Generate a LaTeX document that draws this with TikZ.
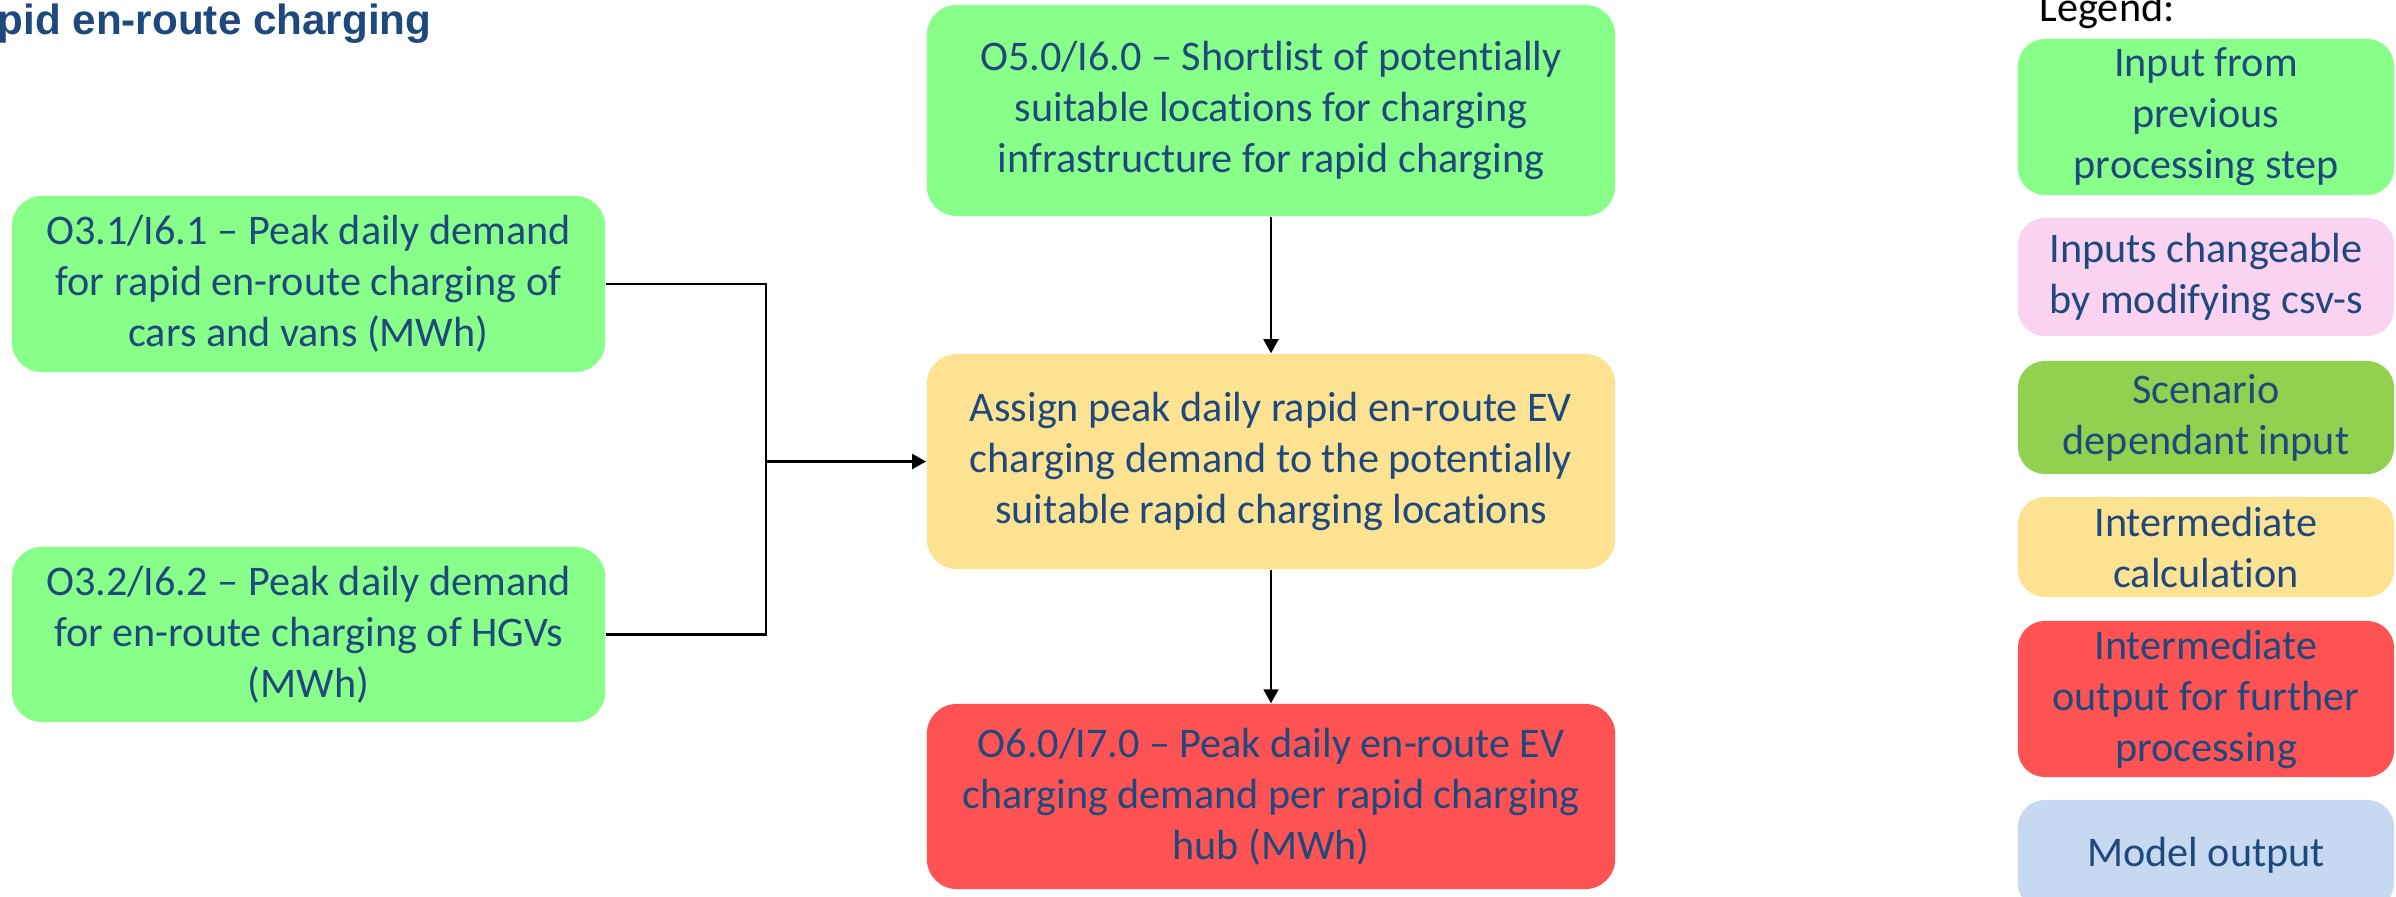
\documentclass[tikz,border=0pt]{standalone}
\usepackage{fontspec}
\setmainfont{Carlito}[Ligatures={NoCommon}]
\newfontfamily\headfont{Liberation Sans}
\usetikzlibrary{arrows.meta}
\definecolor{txtblue}{HTML}{1F497D}
\definecolor{prevgreen}{HTML}{88FF88}
\definecolor{csvpink}{HTML}{F9D3F0}
\definecolor{scengreen}{HTML}{92D050}
\definecolor{calcyellow}{HTML}{FDE391}
\definecolor{outred}{HTML}{FF5252}
\definecolor{modelblue}{HTML}{C6D9F0}
\tikzset{
  box/.style={rectangle, rounded corners=0.3cm, draw=none, align=center,
    text=txtblue, inner sep=0pt,
    font=\fontsize{12}{14.5}\selectfont},
  legbox/.style={box, rounded corners=0.27cm, minimum width=3.76cm},
  conn/.style={draw=black, line width=0.6pt},
  flow/.style={conn, -{Triangle[length=0.14cm, width=0.15cm]}}
}
\begin{document}
\begin{tikzpicture}[x=0.01cm, y=-0.01cm]
\useasboundingbox (0,0) rectangle (2396,896);
\clip (0,0) rectangle (2396,896);

% heading
\node[anchor=base west, inner sep=0pt, text=txtblue,
  font=\headfont\bfseries\fontsize{12}{14}\selectfont] (title) at (-3,34) {pid en-route charging};

% input boxes
\node[box, fill=prevgreen, minimum width=5.93cm, minimum height=1.76cm] (in1) at (308.5,284)
  {O3.1/I6.1 -- Peak daily demand\\for rapid en-route charging of\\cars and vans (MWh)};
\node[box, fill=prevgreen, minimum width=5.93cm, minimum height=1.75cm] (in2) at (308.5,634.5)
  {O3.2/I6.2 -- Peak daily demand\\for en-route charging of HGVs\\(MWh)};
\node[box, fill=prevgreen, minimum width=6.88cm, minimum height=2.11cm] (short) at (1271,110.5)
  {O5.0/I6.0 -- Shortlist of potentially\\suitable locations for charging\\infrastructure for rapid charging};

% calculation and output
\node[box, fill=calcyellow, minimum width=6.88cm, minimum height=2.15cm] (assign) at (1271,461.5)
  {Assign peak daily rapid en-route EV\\charging demand to the potentially\\suitable rapid charging locations};
\node[box, fill=outred, minimum width=6.88cm, minimum height=1.85cm] (out) at (1271,796.5)
  {O6.0/I7.0 -- Peak daily en-route EV\\charging demand per rapid charging\\hub (MWh)};

% connectors
\coordinate (jn) at (766,461.5);
\draw[conn] (in1.east) -| (jn);
\draw[conn] (in2.east) -| (jn);
\draw[flow] (jn) -- (assign.west);
\draw[flow] (short) -- (assign);
\draw[flow] (assign) -- (out);

% legend
\node[anchor=base west, inner sep=0pt, text=black, font=\fontsize{12}{14.5}\selectfont] (legend) at (2039,21) {Legend:};
\node[legbox, fill=prevgreen, minimum height=1.56cm] (l1) at (2206,117) {Input from\\previous\\processing step};
\node[legbox, fill=csvpink, minimum height=1.18cm] (l2) at (2206,277) {Inputs changeable\\by modifying csv-s};
\node[legbox, fill=scengreen, minimum height=1.13cm] (l3) at (2206,417.5) {Scenario\\dependant input};
\node[legbox, fill=calcyellow, minimum height=1.00cm] (l4) at (2206,547) {Intermediate\\calculation};
\node[legbox, fill=outred, minimum height=1.56cm] (l5) at (2206,699) {Intermediate\\output for further\\processing};
\node[legbox, fill=modelblue, minimum height=1.10cm] (l6) at (2206,855) {Model output};
\end{tikzpicture}
\end{document}
